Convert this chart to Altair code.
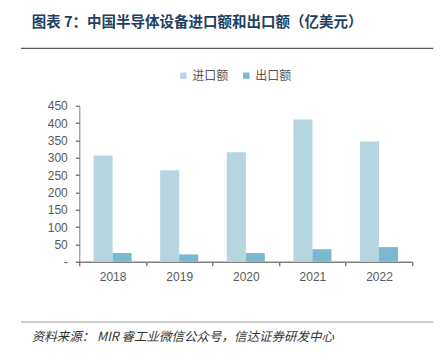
import altair as alt
import pandas as pd

years = ["2018", "2019", "2020", "2021", "2022"]
imports = [306, 264, 316, 410, 347]
exports = [25, 21, 25, 36, 42]
series = ["进口额", "出口额"]
colors = ["#b5d5df", "#7ab9cf"]

title_text = "图表 7：中国半导体设备进口额和出口额（亿美元）"
source_text = "资料来源：   MIR 睿工业微信公众号，信达证券研发中心"

rows = []
for y, a, b in zip(years, imports, exports):
    rows.append({"year": y, "series": series[0], "value": a})
    rows.append({"year": y, "series": series[1], "value": b})
df = pd.DataFrame(rows)

W, H = 333, 156

bars = alt.Chart(df).mark_bar().encode(
    x=alt.X("year:N", sort=years, title=None,
            scale=alt.Scale(paddingInner=0, paddingOuter=0),
            axis=alt.Axis(labelAngle=0, tickBand="extent", tickSize=4,
                          labelPadding=6, labelFontSize=12,
                          labelFont="Liberation Sans", labelColor="#595959",
                          domainColor="#808080", tickColor="#404040",
                          domainWidth=1.5, grid=False)),
    xOffset=alt.XOffset("series:N", sort=series,
                        scale=alt.Scale(paddingInner=0, paddingOuter=0.75)),
    y=alt.Y("value:Q", title=None,
            scale=alt.Scale(domain=[0, 450], nice=False),
            axis=alt.Axis(values=list(range(0, 451, 50)), tickSize=4,
                          labelPadding=8, labelFontSize=12,
                          labelFont="Liberation Sans", labelColor="#595959",
                          domainColor="#808080", tickColor="#404040",
                          grid=False,
                          labelExpr="datum.value == 0 ? '-' : datum.label")),
    color=alt.Color("series:N", sort=series,
                    scale=alt.Scale(domain=series, range=colors),
                    legend=alt.Legend(title=None, orient="none",
                                      direction="horizontal",
                                      legendX=98, legendY=-36,
                                      symbolType="square", symbolSize=40,
                                      symbolStrokeWidth=0,
                                      labelFont="Noto Sans CJK SC",
                                      labelFontSize=12, labelColor="#595959",
                                      labelOffset=3, columnPadding=11)),
)

title = alt.Chart(pd.DataFrame({"t": [title_text]})).mark_text(
    align="left", baseline="middle", font="Noto Sans CJK SC",
    fontSize=14.5, fontWeight="bold", color="#23405f"
).encode(text="t:N", x=alt.value(-47.6), y=alt.value(-82.7))

rule_top = alt.Chart(pd.DataFrame({"a": [0]})).mark_rule(
    color="#333333", strokeWidth=1
).encode(x=alt.value(-58.3), x2=alt.value(354), y=alt.value(-57.4))

rule_bot = alt.Chart(pd.DataFrame({"a": [0]})).mark_rule(
    color="#999999", strokeWidth=1
).encode(x=alt.value(-58.3), x2=alt.value(354), y=alt.value(216.3))

source = alt.Chart(pd.DataFrame({"t": [source_text]})).mark_text(
    align="left", baseline="middle", font="Noto Sans CJK SC",
    fontSize=12.5, fontStyle="italic", color="#333333"
).encode(text="t:N", x=alt.value(-47.6), y=alt.value(231.6))

chart = alt.layer(bars, title, rule_top, rule_bot, source).properties(
    width=W, height=H,
    autosize=alt.AutoSizeParams(type="none"),
    padding={"left": 71.3, "top": 97.7, "right": 21.7, "bottom": 91.3},
    background="white",
).configure_view(stroke=None)

chart.save("out.html", embed_options={"renderer": "svg", "actions": False})
